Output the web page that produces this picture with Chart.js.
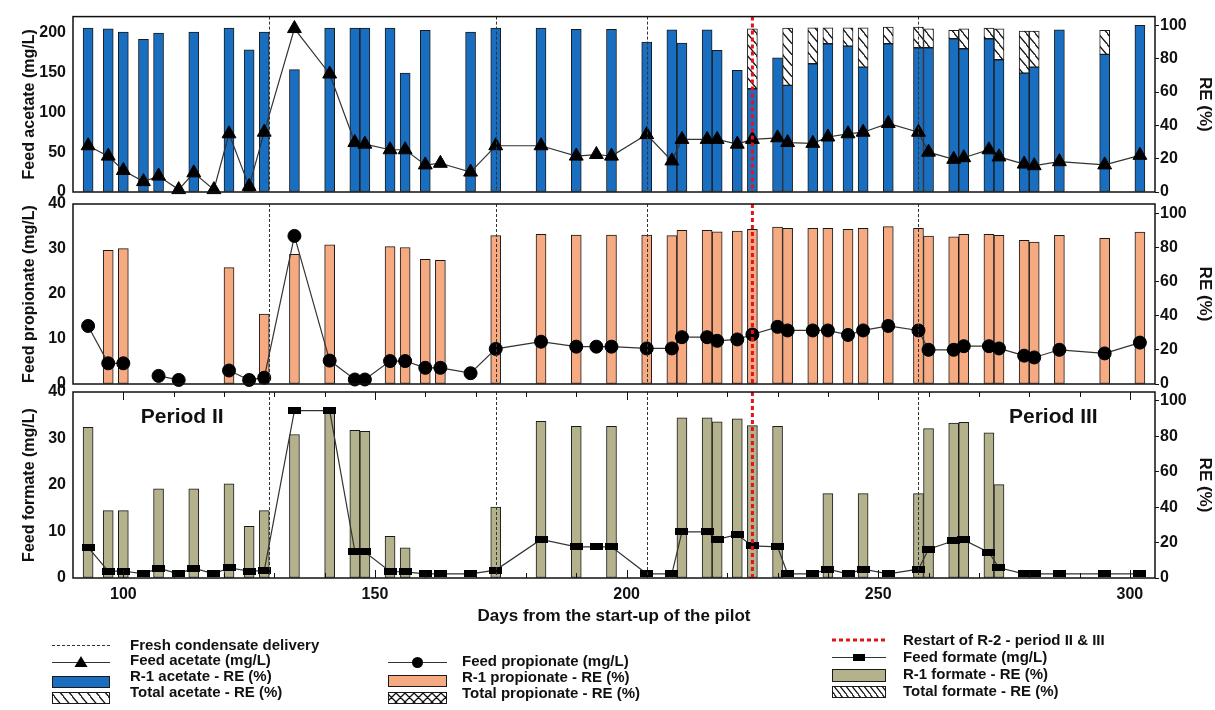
<!DOCTYPE html>
<html>
<head>
<meta charset="utf-8">
<title>Feed VFA and removal efficiency</title>
<script src="https://cdn.jsdelivr.net/npm/chart.js@4.4.1/dist/chart.umd.min.js"></script>
<style>
  body { margin: 0; background: #fff; }
  #wrap { position: relative; width: 1215px; height: 710px; overflow: hidden; }
  #wrap canvas { position: absolute; left: 0; }
  .lg { position: absolute; font: bold 15px "Liberation Sans", Arial, sans-serif; color: #111; line-height: 16px; white-space: nowrap; }
</style>
</head>
<body>
<div id="wrap">
  <canvas id="acetateChart" width="1215" height="210" style="top:0"></canvas>
  <canvas id="propionateChart" width="1215" height="220" style="top:184px"></canvas>
  <canvas id="formateChart" width="1215" height="258" style="top:372px"></canvas>
  <canvas id="legendKeys" width="1215" height="80" style="top:630px"></canvas>

  <div class="lg" style="left:130px;top:637px">Fresh condensate delivery</div>
  <div class="lg" style="left:130px;top:652px">Feed acetate (mg/L)</div>
  <div class="lg" style="left:130px;top:668px">R-1 acetate - RE (%)</div>
  <div class="lg" style="left:130px;top:684px">Total acetate - RE (%)</div>

  <div class="lg" style="left:462px;top:653px">Feed propionate (mg/L)</div>
  <div class="lg" style="left:462px;top:669px">R-1 propionate - RE (%)</div>
  <div class="lg" style="left:462px;top:685px">Total propionate - RE (%)</div>

  <div class="lg" style="left:903px;top:632px">Restart of R-2 - period II &amp; III</div>
  <div class="lg" style="left:903px;top:649px">Feed formate (mg/L)</div>
  <div class="lg" style="left:903px;top:666px">R-1 formate - RE (%)</div>
  <div class="lg" style="left:903px;top:683px">Total formate - RE (%)</div>
</div>

<script>
// Sampling days (days from the start-up of the pilot)
const days = [
    93, 97, 100, 104, 107, 111, 114, 118, 121, 125, 128, 134, 141, 146, 148, 153, 156,
    160, 163, 169, 174, 183, 190, 194, 197, 204, 209, 211, 216, 218, 222, 225, 230,
    232, 237, 240, 244, 247, 252, 258, 260, 265, 267, 272, 274, 279, 281, 286, 295, 302,
];

// Acetate: feed concentration (mg/L) and removal efficiencies (%)
const acetateFeed = [
    58, 45, 27, 13, 20, 3, 24, 3, 73, 7, 75, 205, 148, 62, 60, 53, 53,
    34, 36, 25, 58, 58, 45, 47, 45, 72, 39, 66, 66, 66, 60, 66, 68,
    62, 61, 69, 73, 75, 86, 75, 50, 41, 43, 53, 44, 35, 33, 38, 34, 46,
];
const acetateR1RE = [
    98.4, 98, 96, 91.6, 95.4, null, 96, null, 98.4, 85.4, 96, 73.5, 98.4, 98.4, 98.4, 98.4, 71.4,
    97, null, 96, 98.4, 98.4, 97.6, null, 97.6, 90, 97.4, 89.4, 97.4, 85, 73, 62, 80.6,
    64, 77, 89, 87.6, 75, 89, 86.6, 86.6, 92, 86, 92, 79.4, 71.4, 75, 97.4, 82.6, 100,
];
const acetateTotalRE = [
    null, null, null, null, null, null, null, null, null, null, null, null, null, null, null, null, null,
    null, null, null, null, null, null, null, null, null, null, null, null, null, null, 98, null,
    98.4, 98.6, 98.6, 98.6, 98.6, 99, 99, 98, 97, 98, 98.4, 98, 96.6, 96.6, null, 97, null,
];

// Propionate
const propionateFeed = [
    12.9, 4.6, 4.6, null, 1.8, 0.9, null, null, 3.0, 0.9, 1.4, 32.9, 5.2, 1.0, 1.0, 5.1, 5.1,
    3.6, 3.6, 2.4, 7.8, 9.4, 8.3, 8.3, 8.3, 7.9, 7.9, 10.4, 10.4, 9.6, 9.9, 11.0, 12.7,
    11.9, 11.9, 11.9, 10.9, 11.9, 12.9, 11.9, 7.6, 7.6, 8.4, 8.4, 7.9, 6.3, 5.9, 7.6, 6.8, 9.2,
];
const propionateR1RE = [
    null, 78.4, 79.3, null, null, null, null, null, 68.2, null, 41, 76, 81.5, null, null, 80.5, 80,
    73.1, 72.5, null, 87, 87.7, 87.3, null, 87.3, 87.3, 87, 90, 90, 89.2, 89.6, 90.6, 92,
    91.2, 91.2, 91.2, 90.6, 91.2, 92.2, 91.2, 86.7, 86.3, 87.7, 87.7, 87.1, 84.2, 83.2, 87.1, 85.4, 89,
];

// Formate
const formateFeed = [
    6.6, 1.5, 1.5, 0.9, 2.1, 0.9, 2.1, 0.9, 2.2, 1.5, 1.6, 36, 36, 5.8, 5.6, 1.4, 1.3,
    0.9, 0.9, 0.9, 1.7, 8.3, 6.7, 6.7, 6.7, 0.9, 0.9, 9.9, 9.9, 8.3, 9.3, 6.9, 6.7,
    0.9, 0.9, 1.9, 0.9, 1.9, 0.9, 1.9, 6.2, 8.0, 8.2, 5.5, 2.2, 0.9, 0.9, 0.9, 0.9, 0.9,
];
const formateR1RE = [
    85, 38, 38, null, 50.3, null, 50.3, null, 53.1, 29.2, 38, 81, 95.6, 83.4, 82.8, 23.5, 17,
    null, null, null, 40, 88.5, 85.6, null, 85.6, null, null, 90.4, 90.4, 88.1, 89.8, 86, 85.6,
    null, null, 47.6, null, 47.6, null, 47.6, 84.3, 87.5, 87.9, 81.9, 52.7, null, null, null, null, null,
];

// Events
const deliveryDays = [129, 174, 204, 258];
const restartDays = [225];

// Tick labels
const xTicks = [100, 150, 200, 250, 300];
const acetateTicks = [0, 50, 100, 150, 200];
const propionateTicks = [0, 10, 20, 30, 40];
const formateTicks = [0, 10, 20, 30, 40];
const reTicks = [0, 20, 40, 60, 80, 100];

const FONT = '"Liberation Sans", Arial, sans-serif';
const BLUE = '#1a6ec0';
const ORANGE = '#f6aa82';
const OLIVE = '#b4b28c';
const EDGE = '#1a1a1a';

Chart.defaults.font.family = FONT;
Chart.defaults.color = '#111';

// hatch patterns for the "total" bars
function makeHatch(w, h, cross) {
    const c = document.createElement('canvas');
    c.width = w;
    c.height = h;
    const g = c.getContext('2d');
    g.fillStyle = '#fff';
    g.fillRect(0, 0, w, h);
    g.strokeStyle = '#111';
    g.lineWidth = 1.3;
    g.beginPath();
    g.moveTo(-1, -1); g.lineTo(w + 1, h + 1);
    g.moveTo(-w - 1, -1); g.lineTo(1, h + 1);
    g.moveTo(w - 1, -h - 1); g.lineTo(2 * w + 1, h + 1);
    if (cross) {
        g.moveTo(w + 1, -1); g.lineTo(-1, h + 1);
    }
    g.stroke();
    return g.createPattern(c, 'repeat');
}
const hatch = makeHatch(9, 11, false);
const crossHatch = makeHatch(9, 9, true);
const denseHatch = makeHatch(6, 8, false);

// flat black marker used for the formate feed
const formateMarker = document.createElement('canvas');
formateMarker.width = 13;
formateMarker.height = 7;
formateMarker.getContext('2d').fillRect(0, 0, 13, 7);

const pts = ys => days.map((d, i) => ({ x: d, y: ys[i] }));
const barPts = ys => days.map((d, i) => ({ x: d, y: ys[i] })).filter(p => p.y !== null);
const rangePts = (lo, hi) => days
    .map((d, i) => (hi[i] === null ? null : { x: d, y: [lo[i], hi[i]] }))
    .filter(Boolean);

// frame, event lines, inner ticks and period labels
const panelDecor = {
    id: 'panelDecor',
    afterDatasetsDraw(chart, args, opts) {
        const { ctx, chartArea: a } = chart;
        const x = chart.scales.x;
        const y = chart.scales.y;
        ctx.save();
        ctx.strokeStyle = '#333';
        ctx.lineWidth = 1;
        ctx.setLineDash([3, 2]);
        deliveryDays.forEach(d => {
            const px = Math.round(x.getPixelForValue(d)) + 0.5;
            ctx.beginPath();
            ctx.moveTo(px, a.top);
            ctx.lineTo(px, a.bottom);
            ctx.stroke();
        });
        ctx.strokeStyle = '#e3121c';
        ctx.lineWidth = 3;
        ctx.setLineDash([4, 3]);
        restartDays.forEach(d => {
            const px = x.getPixelForValue(d);
            ctx.beginPath();
            ctx.moveTo(px, a.top);
            ctx.lineTo(px, a.bottom);
            ctx.stroke();
        });
        ctx.setLineDash([]);
        ctx.strokeStyle = '#111';
        ctx.lineWidth = 1.5;
        ctx.strokeRect(a.left, a.top, a.width, a.height);
        if (opts.innerTicks) {
            ctx.lineWidth = 1;
            for (let v = 100; v <= 300; v += 10) {
                const px = Math.round(x.getPixelForValue(v)) + 0.5;
                const len = v % 50 === 0 ? 8 : 5;
                ctx.beginPath();
                ctx.moveTo(px, a.top);
                ctx.lineTo(px, a.top + len);
                ctx.moveTo(px, a.bottom);
                ctx.lineTo(px, a.bottom - len);
                ctx.stroke();
            }
        }
        (opts.labels || []).forEach(l => {
            ctx.font = 'bold 21px ' + FONT;
            ctx.fillStyle = '#111';
            ctx.textAlign = 'center';
            ctx.textBaseline = 'middle';
            ctx.fillText(l.text, x.getPixelForValue(l.x), y.getPixelForValue(l.y));
        });
        ctx.restore();
    },
};

function panelChart(id, cfg) {
    const tickFont = { family: FONT, size: 16, weight: 'bold' };
    return new Chart(document.getElementById(id), {
        type: 'bar',
        data: { datasets: cfg.datasets },
        options: {
            responsive: false,
            animation: false,
            layout: { padding: { top: cfg.padTop, bottom: cfg.padBottom, left: 0, right: 0 } },
            plugins: {
                legend: { display: false },
                tooltip: { enabled: false },
                panelDecor: cfg.decor || {},
            },
            scales: {
                x: {
                    type: 'linear',
                    min: 90,
                    max: 305,
                    offset: false,
                    display: cfg.showX,
                    afterFit: s => { if (cfg.showX) s.height = 52; },
                    afterBuildTicks: s => { s.ticks = xTicks.map(v => ({ value: v })); },
                    grid: { display: false, drawTicks: false },
                    border: { display: false },
                    ticks: { font: tickFont, color: '#111', padding: 7, maxRotation: 0 },
                    title: {
                        display: true,
                        text: 'Days from the start-up of the pilot',
                        color: '#111',
                        font: { family: FONT, size: 17, weight: 'bold' },
                        padding: { top: 0, bottom: 3 },
                    },
                },
                y: {
                    type: 'linear',
                    position: 'left',
                    min: 0,
                    max: cfg.leftMax,
                    afterFit: s => { s.width = 73; },
                    afterBuildTicks: s => { s.ticks = cfg.leftTicks.map(v => ({ value: v })); },
                    grid: { display: false, drawTicks: false },
                    border: { display: false },
                    ticks: { font: tickFont, color: '#111', padding: 7 },
                    title: {
                        display: true,
                        text: cfg.leftTitle,
                        color: '#111',
                        font: { family: FONT, size: 16, weight: 'bold' },
                        padding: { top: 20, bottom: 0 },
                    },
                },
                re: {
                    type: 'linear',
                    position: 'right',
                    min: 0,
                    max: cfg.reMax,
                    afterFit: s => { s.width = 60; },
                    afterBuildTicks: s => { s.ticks = reTicks.map(v => ({ value: v })); },
                    grid: { display: true, drawOnChartArea: false, drawTicks: true, tickLength: 4, color: '#111' },
                    border: { display: false },
                    ticks: { font: tickFont, color: '#111', padding: 1 },
                    title: {
                        display: true,
                        text: 'RE (%)',
                        color: '#111',
                        font: { family: FONT, size: 17, weight: 'bold' },
                        padding: { top: 0, bottom: 0 },
                    },
                },
            },
        },
        plugins: [panelDecor],
    });
}

const barStyle = { type: 'bar', yAxisID: 're', borderColor: EDGE, borderWidth: 1, borderSkipped: false, barThickness: 10, grouped: false, order: 2 };
const lineStyle = { type: 'line', yAxisID: 'y', borderColor: '#333', borderWidth: 1.2, pointBackgroundColor: '#000', pointBorderColor: '#000', pointBorderWidth: 1, spanGaps: false, clip: false, order: 0 };

panelChart('acetateChart', {
    padTop: 16,
    padBottom: 18,
    showX: false,
    leftMax: 220,
    reMax: 105.3,
    leftTicks: acetateTicks,
    leftTitle: 'Feed acetate (mg/L)',
    datasets: [
        { ...barStyle, label: 'R-1 acetate - RE (%)', data: barPts(acetateR1RE), backgroundColor: BLUE },
        { ...barStyle, label: 'Total acetate - RE (%)', data: rangePts(acetateR1RE, acetateTotalRE), backgroundColor: hatch },
        { ...lineStyle, label: 'Feed acetate (mg/L)', data: pts(acetateFeed), pointStyle: 'triangle', pointRadius: 8 },
    ],
});

panelChart('propionateChart', {
    padTop: 20,
    padBottom: 20,
    showX: false,
    leftMax: 40,
    reMax: 105.5,
    leftTicks: propionateTicks,
    leftTitle: 'Feed propionate (mg/L)',
    datasets: [
        { ...barStyle, label: 'R-1 propionate - RE (%)', data: barPts(propionateR1RE), backgroundColor: ORANGE },
        { ...lineStyle, label: 'Feed propionate (mg/L)', data: pts(propionateFeed), pointStyle: 'circle', pointRadius: 6.5 },
    ],
});

panelChart('formateChart', {
    padTop: 20,
    padBottom: 0,
    showX: true,
    leftMax: 40,
    reMax: 105,
    leftTicks: formateTicks,
    leftTitle: 'Feed formate (mg/L)',
    decor: {
        innerTicks: true,
        labels: [
            { text: 'Period II', x: 111.7, y: 34.6 },
            { text: 'Period III', x: 284.8, y: 34.6 },
        ],
    },
    datasets: [
        { ...barStyle, label: 'R-1 formate - RE (%)', data: barPts(formateR1RE), backgroundColor: OLIVE },
        { ...lineStyle, label: 'Feed formate (mg/L)', data: pts(formateFeed), pointStyle: formateMarker },
    ],
});

// legend keys
(function drawKeys() {
    const g = document.getElementById('legendKeys').getContext('2d');
    function line(x0, x1, y, color, width, dash) {
        g.save();
        g.strokeStyle = color;
        g.lineWidth = width;
        g.setLineDash(dash);
        g.beginPath();
        g.moveTo(x0, y);
        g.lineTo(x1, y);
        g.stroke();
        g.restore();
    }
    function box(x, y, w, h, fill) {
        g.fillStyle = fill;
        g.fillRect(x, y, w, h);
        g.strokeStyle = EDGE;
        g.lineWidth = 1;
        g.strokeRect(x + 0.5, y + 0.5, w - 1, h - 1);
    }
    // acetate column
    line(52, 110, 15.5, '#333', 1, [3, 2]);
    line(52, 110, 32.5, '#333', 1.2, []);
    g.fillStyle = '#000';
    g.beginPath();
    g.moveTo(81, 26); g.lineTo(87.5, 37); g.lineTo(74.5, 37);
    g.closePath();
    g.fill();
    box(52, 46, 58, 12, BLUE);
    box(52, 62, 58, 12, hatch);
    // propionate column
    line(388, 447, 32.5, '#333', 1.2, []);
    g.fillStyle = '#000';
    g.beginPath();
    g.arc(417.5, 32.5, 5.5, 0, Math.PI * 2);
    g.fill();
    box(388, 45, 59, 12, ORANGE);
    box(388, 62, 59, 12, crossHatch);
    // formate column
    line(832, 886, 10, '#e3121c', 3, [4, 3]);
    line(832, 886, 27.5, '#333', 1.2, []);
    g.fillStyle = '#000';
    g.fillRect(853, 24, 12, 7);
    box(832, 39, 54, 13, OLIVE);
    box(832, 56, 54, 12, denseHatch);
})();
</script>
</body>
</html>
